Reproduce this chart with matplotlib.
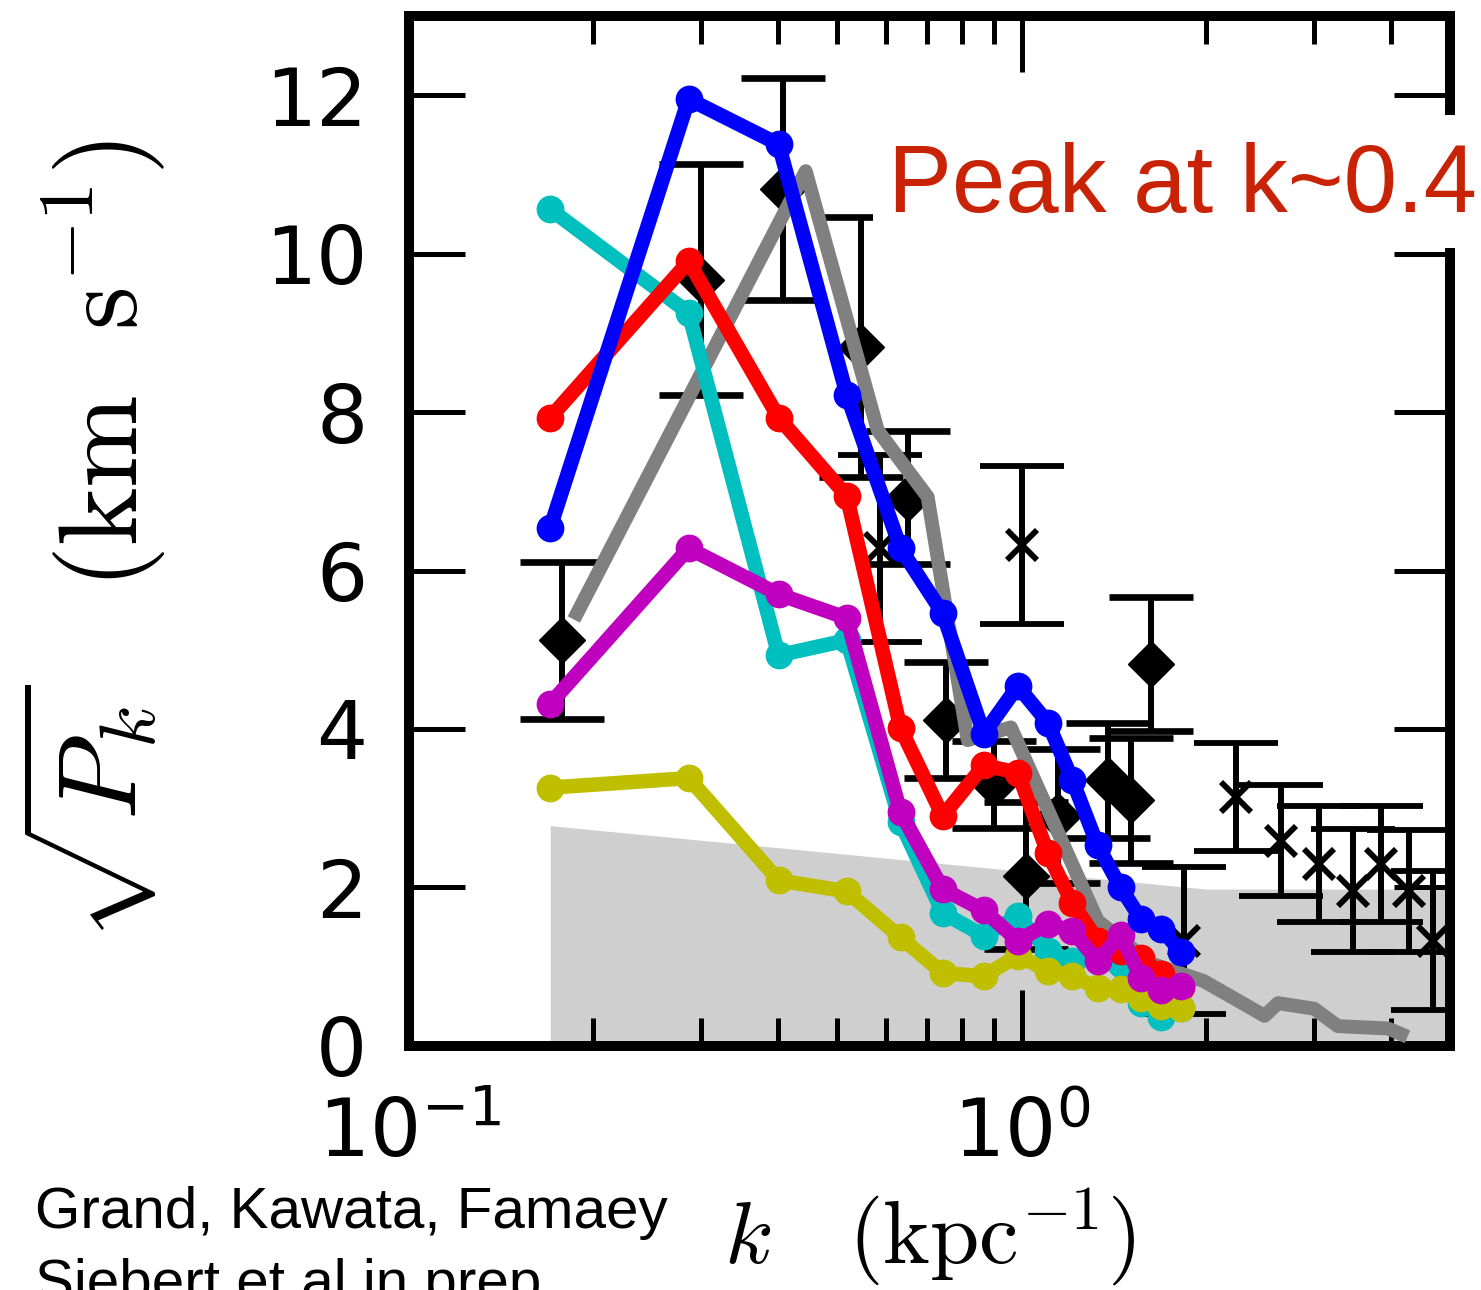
import numpy as np
import matplotlib
matplotlib.use("Agg")
import matplotlib.pyplot as plt
from matplotlib.patches import Rectangle
from matplotlib.ticker import LogLocator, NullFormatter, FixedLocator

plt.rcParams["mathtext.fontset"] = "cm"

# simulation wavenumbers (kpc^-1) and sqrt(P_k) for each model run
K_SIM = [0.170, 0.286, 0.401, 0.518, 0.634, 0.743, 0.867, 0.985,
         1.103, 1.21, 1.33, 1.45, 1.565, 1.69, 1.82]
BLUE = [6.54, 11.95, 11.38, 8.22, 6.28, 5.46, 3.94, 4.54,
        4.08, 3.35, 2.53, 2.0, 1.6, 1.48, 1.18]
RED = [7.93, 9.9, 7.93, 6.94, 4.01, 2.9, 3.54, 3.45,
       2.43, 1.80, 1.33, 1.2, 1.11, 0.91, 0.74]
CYAN = [10.56, 9.25, 4.93, 5.12, 2.82, 1.68, 1.39, 1.64,
        1.2, 1.07, 1.29, 1.04, 0.54, 0.37, 0.48]
MAGENTA = [4.32, 6.28, 5.7, 5.4, 2.95, 1.98, 1.71, 1.33,
           1.54, 1.45, 1.07, 1.4, 0.86, 0.70, 0.76]
YELLOW = [3.26, 3.38, 2.09, 1.95, 1.37, 0.92, 0.88, 1.14,
          0.95, 0.88, 0.73, 0.72, 0.60, 0.50, 0.48]

# grey reference curve
K_GREY = [0.188, 0.444, 0.582, 0.702, 0.816, 0.960, 1.33, 1.625,
          1.98, 2.49, 2.62, 3.0, 3.28, 3.96, 4.16]
GREY = [5.46, 11.04, 7.77, 6.93, 3.86, 4.02, 1.58, 1.04,
        0.82, 0.38, 0.54, 0.47, 0.25, 0.22, 0.15]

# noise level band
K_BAND = [0.17, 2.0, 5.0]
BAND = [2.78, 1.98, 1.98]

# observed data: diamonds and crosses with errors
K_DIA = [0.178, 0.299, 0.408, 0.546, 0.651, 0.751, 0.90, 1.015,
         1.145, 1.382, 1.507, 1.625]
V_DIA = [5.12, 9.67, 10.81, 8.82, 6.92, 4.11, 3.3, 2.15,
         2.9, 3.35, 3.1, 4.82]
E_DIA = [0.99, 1.46, 1.4, 1.64, 0.84, 0.73, 0.55, 0.93,
         0.85, 0.73, 0.79, 0.84]

K_X = [0.588, 1.0, 1.84, 2.24, 2.65, 3.06, 3.47, 3.86, 4.29, 4.69]
V_X = [6.28, 6.32, 1.33, 3.14, 2.59, 2.3, 1.96, 2.3, 1.96, 1.33]
E_X = [1.18, 1.0, 0.93, 0.68, 0.7, 0.73, 0.78, 0.73, 0.77, 0.88]

fig = plt.figure(figsize=(14.81, 12.9), dpi=100)
ax = fig.add_axes([0.2762, 0.1892, 0.7029, 0.7985])

ax.fill_between(K_BAND, 0, BAND, color="0.81", lw=0, zorder=1)

eb = dict(color="k", elinewidth=4.3, capsize=30, capthick=4.8, ls="none", zorder=2)
ax.errorbar(K_DIA, V_DIA, yerr=E_DIA, fmt="D", ms=23, **eb)
ax.errorbar(K_X, V_X, yerr=E_X, fmt="x", ms=22, mew=4.2, **eb)

ax.plot(K_GREY, GREY, color="0.5", lw=10, zorder=3)

for vals, col in [(CYAN, "c"), (RED, "r"), (YELLOW, "y"), (MAGENTA, "m"), (BLUE, "b")]:
    ax.plot(K_SIM, vals, "-o", color=col, lw=10.5, ms=20, mew=0, zorder=4)

ax.set_xscale("log")
ax.set_xlim(0.1, 5.0)
ax.set_ylim(0, 13)

ax.xaxis.set_major_locator(FixedLocator([0.1, 1.0]))
ax.xaxis.set_minor_locator(LogLocator(base=10, subs=np.arange(2, 10)))
ax.xaxis.set_minor_formatter(NullFormatter())
ax.set_xticks([0.1, 1.0])
ax.set_xticklabels([r"$\mathregular{10^{-1}}$", r"$\mathregular{10^{0}}$"])
ax.set_yticks([0, 2, 4, 6, 8, 10, 12])

for s in ax.spines.values():
    s.set_linewidth(7.2)
ax.tick_params(which="both", direction="in", top=True, right=True, width=3.6)
ax.tick_params(which="major", length=40)
ax.tick_params(which="minor", length=20)
ax.tick_params(axis="y", labelsize=58, pad=30)
ax.tick_params(axis="x", labelsize=58, pad=36)

ax.set_ylabel(r"$\sqrt{P_k}\quad(\mathrm{km\ \ s^{-1}})$", fontsize=80)
ax.yaxis.set_label_coords(-0.232, 0.49)
ax.set_xlabel(r"$k\quad(\mathrm{kpc^{-1}})$", fontsize=64)
ax.xaxis.set_label_coords(0.5, -0.136)

# white box behind the annotation
fig.add_artist(Rectangle((0.5895, 0.8078), 0.42, 0.1031, transform=fig.transFigure,
                         facecolor="white", edgecolor="none", zorder=5))
fig.text(0.5996, 0.8357, "Peak at k~0.4", color="#c82306", fontsize=69,
         family="Liberation Sans", va="baseline", zorder=6)

fig.text(0.0236, 0.048, "Grand, Kawata, Famaey", fontsize=42,
         family="Liberation Sans", va="baseline")
fig.text(0.0236, -0.008, "Siebert et al in prep", fontsize=42,
         family="Liberation Sans", va="baseline")

fig.savefig("out.png", dpi=100)
